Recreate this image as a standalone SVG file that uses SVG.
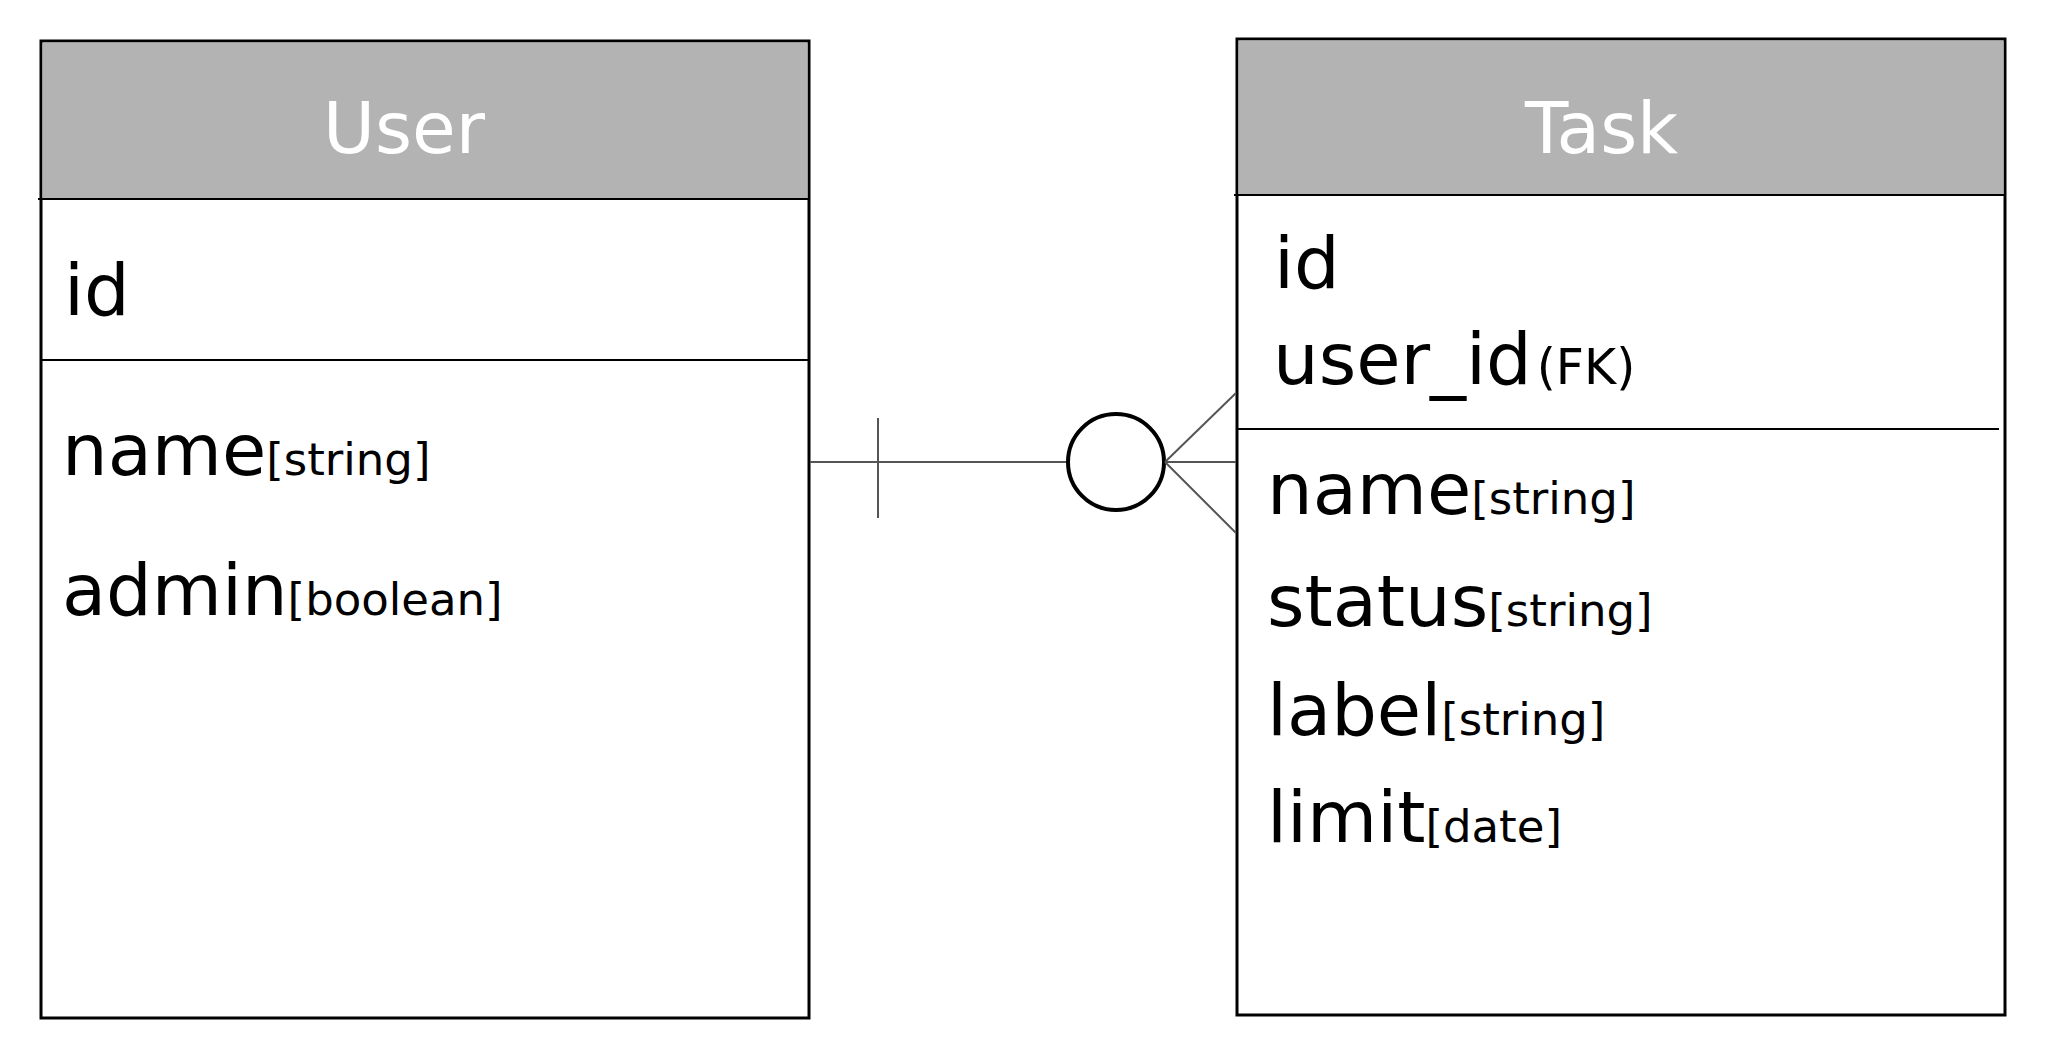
<svg xmlns="http://www.w3.org/2000/svg" width="2065" height="1059" viewBox="0 0 2065 1059">
<style>
.box{fill:#fff;stroke:#000;stroke-width:3}
.hdr{fill:#b3b3b3}
.sep{stroke:#000;stroke-width:2}
.title{font-family:"DejaVu Sans",sans-serif;font-size:71px;fill:#fff}
.f{font-family:"DejaVu Sans",sans-serif;font-size:72px;fill:#000}
.t{font-size:45px}
.fk{font-size:49px}
.conn{stroke:#555;stroke-width:2;fill:none}
</style>
<rect width="2065" height="1059" fill="#fff"/>
<g id="user">
<rect class="box" x="41" y="41" width="768" height="977"/>
<rect class="hdr" x="42.5" y="42.5" width="765" height="156"/>
<line class="sep" x1="38" y1="199" x2="809" y2="199"/>
<line class="sep" x1="41" y1="360" x2="809" y2="360"/>
<text class="title" x="323" y="153">User</text>
<text class="f" x="64" y="315">id</text>
<text class="f" x="62" y="475">name<tspan class="t">[string]</tspan></text>
<text class="f" x="62" y="615">admin<tspan class="t">[boolean]</tspan></text>
</g>
<g id="task">
<rect class="box" x="1237" y="39" width="768" height="976"/>
<rect class="hdr" x="1238.5" y="40.5" width="765" height="154"/>
<line class="sep" x1="1234" y1="195" x2="2005" y2="195"/>
<line class="sep" x1="1237" y1="429" x2="1999" y2="429"/>
<text class="title" x="1525" y="153">Task</text>
<text class="f" x="1274" y="288">id</text>
<text class="f" x="1273" y="384">user_id<tspan class="fk" dx="5">(FK)</tspan></text>
<text class="f" x="1267" y="514">name<tspan class="t">[string]</tspan></text>
<text class="f" x="1267" y="626">status<tspan class="t">[string]</tspan></text>
<text class="f" x="1267" y="735">label<tspan class="t">[string]</tspan></text>
<text class="f" x="1267" y="842">limit<tspan class="t">[date]</tspan></text>
</g>
<g id="connectors">
<line class="conn" x1="810" y1="462" x2="1067" y2="462"/>
<line class="conn" x1="878" y1="418" x2="878" y2="518"/>
<circle cx="1116" cy="462" r="48" fill="#fff" stroke="#000" stroke-width="4"/>
<line class="conn" x1="1165" y1="462" x2="1236" y2="462"/>
<line class="conn" x1="1165" y1="462" x2="1236" y2="393"/>
<line class="conn" x1="1165" y1="462" x2="1236" y2="533"/>
</g>
</svg>
